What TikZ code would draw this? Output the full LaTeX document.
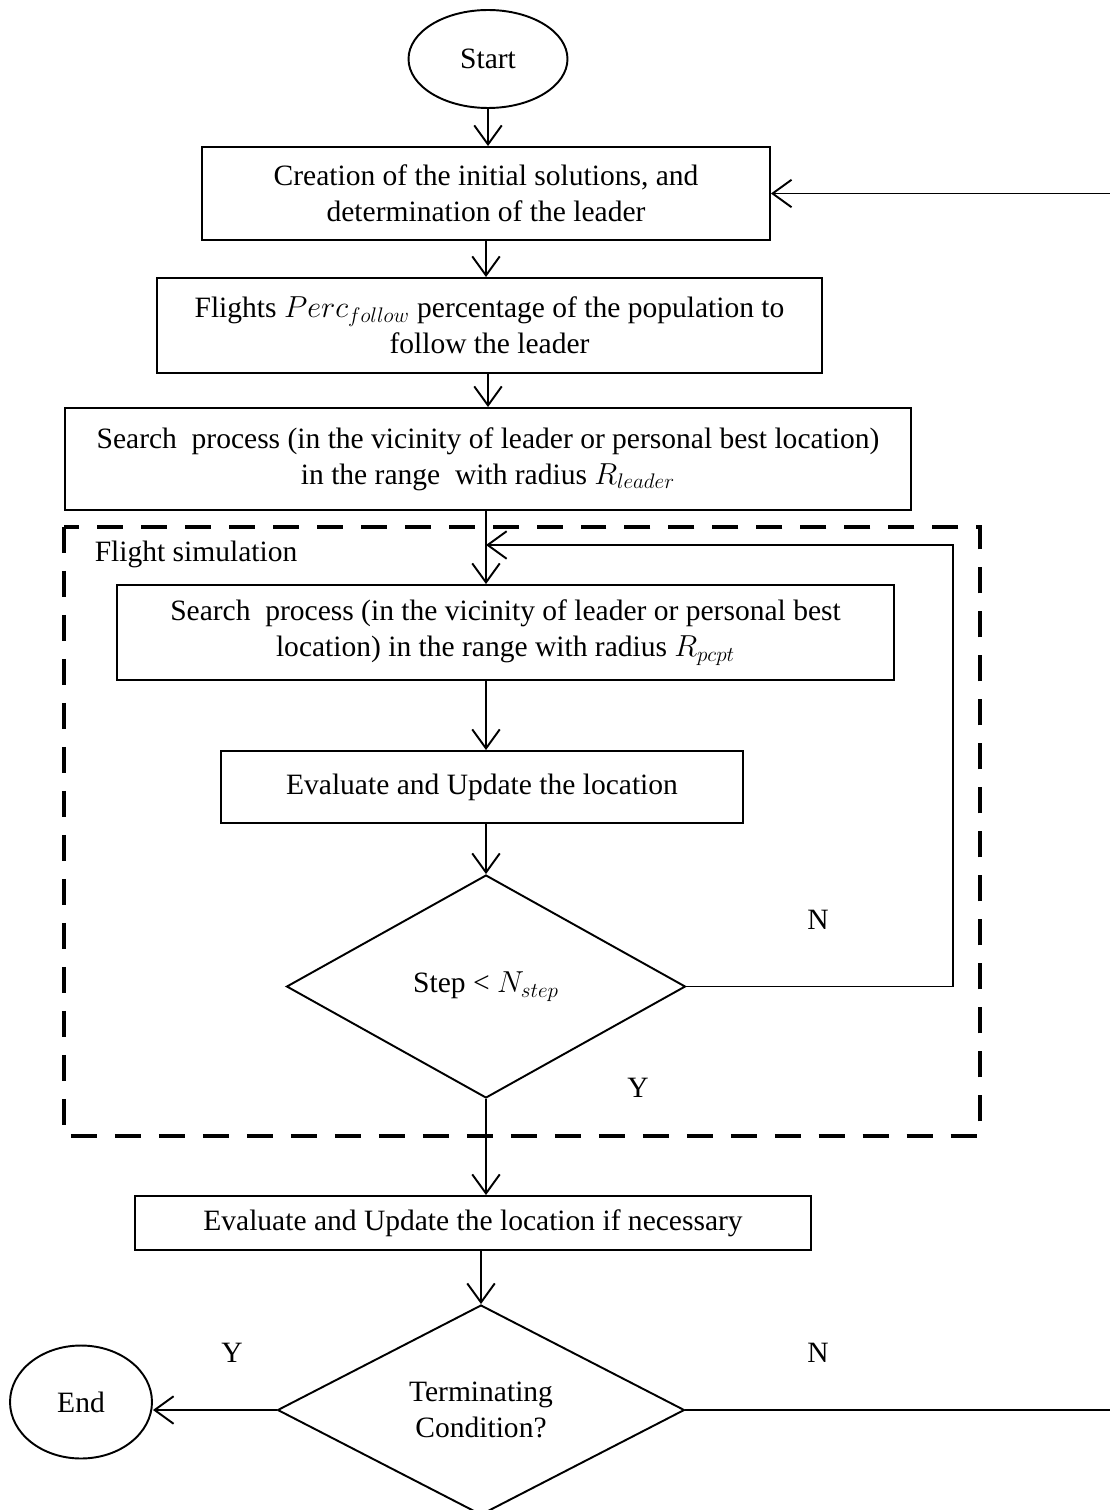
\documentclass[tikz,border=0pt]{standalone}
\usepackage{fontspec}
\setmainfont{Liberation Serif}
\usetikzlibrary{shapes.geometric,arrows.meta}

\begin{document}
\begin{tikzpicture}[x=.02cm, y=-.02cm, line width=1.1pt, font=\fontsize{16.8}{20.5}\selectfont,
	box/.style={draw, rectangle, align=center, inner sep=0pt},
	terminal/.style={draw, ellipse, inner sep=0pt},
	decision/.style={draw, diamond, align=center, inner sep=0pt},
	arr/.style={-{Straight Barb[length=.38cm, width=.55cm, line width=1.1pt]}},
	frame/.style={line width=2.8pt, dash pattern=on .52cm off .36cm}]
	\useasboundingbox (0,0) rectangle (1109,1510);
	\node[terminal, minimum width=3.18cm, minimum height=1.96cm] (start)     at (488,59)     {Start};
	\node[box, minimum width=11.36cm, minimum height=1.86cm]     (init)      at (486,193.5)  {Creation of the initial solutions, and\\determination of the leader};
	\node[box, minimum width=13.3cm, minimum height=1.9cm]       (follow)    at (489.5,325.5) {Flights $Perc_{follow}$ percentage of the population to\\follow the leader};
	\node[box, minimum width=16.92cm, minimum height=2.04cm]     (search)    at (488,459)    {Search\ \ process (in the vicinity of leader or personal best location)\\in the range\ \ with radius $R_{leader}$};
	\node[anchor=west]                                           (fsim)      at (88,554)     {Flight simulation};
	\node[box, minimum width=15.54cm, minimum height=1.9cm]      (local)     at (505.5,632.5) {Search\ \ process (in the vicinity of leader or personal best\\location) in the range with radius $R_{pcpt}$};
	\node[box, minimum width=10.44cm, minimum height=1.44cm]     (evalloc)   at (482,787)    {Evaluate and Update the location};
	\node[decision, minimum width=7.98cm, minimum height=4.46cm] (stepcheck) at (486,986.5)  {Step < $N_{step}$};
	\node                                                        (n1)        at (818,920)    {N};
	\node                                                        (y1)        at (638,1088)   {Y};
	\node[box, minimum width=13.52cm, minimum height=1.08cm]     (evalnec)   at (473,1223)   {Evaluate and Update the location if necessary};
	\node[decision, minimum width=8.14cm, minimum height=4.2cm]  (term)      at (481,1410)   {Terminating\\Condition?};
	\node[terminal, minimum width=2.84cm, minimum height=2.26cm] (end)       at (81,1402)    {End};
	\node                                                        (y2)        at (232,1353)   {Y};
	\node                                                        (n2)        at (818,1353)   {N};
	\coordinate (loopin)     at (486,545);
	\coordinate (loopcorner) at (953,545);
	\coordinate (backcorner) at (1112,193.5);
	\draw[frame] (64,527) rectangle (980,1136);
	\draw[arr] (start) -- (start |- init.north);
	\draw[arr] (init) -- (init |- follow.north);
	\draw[arr] (search |- follow.south) -- (search.north);
	\draw[arr] (loopin |- search.south) -- (loopin |- local.north);
	\draw[arr] (loopin |- local.south) -- (loopin |- evalloc.north);
	\draw[arr] (loopin |- evalloc.south) -- (stepcheck.north);
	\draw[arr] (stepcheck.south) -- (stepcheck.south |- evalnec.north);
	\draw[arr] (term.north |- evalnec.south) -- (term.north);
	\draw[arr] (stepcheck.east) -| (loopcorner) -- (loopin);
	\draw[arr] (term.west) -- (term.west -| end.east);
	\draw[arr] (term.east) -| (backcorner) -- (init.east);
\end{tikzpicture}
\end{document}
